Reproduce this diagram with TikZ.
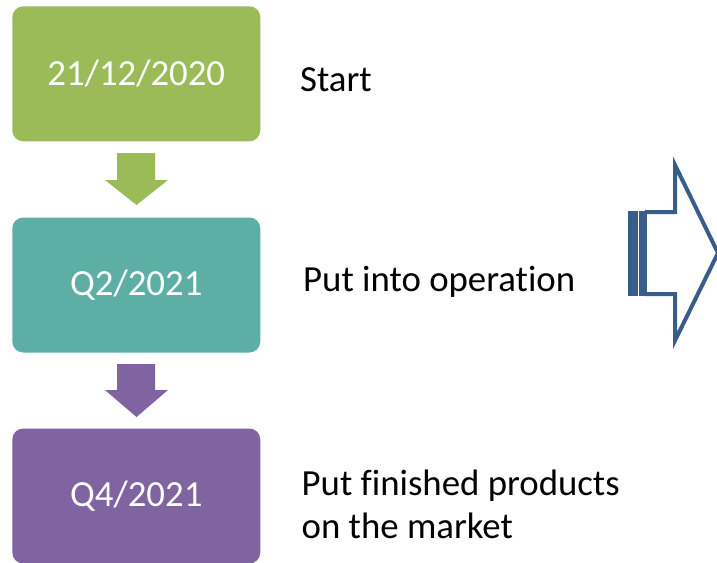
\documentclass[tikz,border=0pt]{standalone}
\usepackage{fontspec}
\setmainfont[Ligatures=NoCommon]{Carlito}
\definecolor{cgreen}{HTML}{9BBB59}
\definecolor{cteal}{HTML}{5DAFA6}
\definecolor{cpurple}{HTML}{8064A2}
\definecolor{cblue}{HTML}{385D8A}
\tikzset{
  datebox/.style={rounded corners=11pt, minimum width=248pt, minimum height=135pt, inner sep=0pt, text=white, font=\fontsize{36.8}{43}\selectfont},
  label/.style={anchor=base west, inner sep=0pt, font=\fontsize{36.8}{43}\selectfont},
}
\begin{document}
\begin{tikzpicture}[x=1pt,y=-1pt]
\useasboundingbox (0,0) rectangle (717,562);
\clip (0,0) rectangle (717,562);
\node[datebox, fill=cgreen] (b1) at (136.3,73.8) {21/12/2020};
\node[datebox, fill=cteal] (b2) at (136.3,285) {Q2/2021};
\node[datebox, fill=cpurple] (b3) at (136.3,496) {Q4/2021};
% down arrows
\fill[cgreen] (117,153) -- (155,153) -- (155,180) -- (168,180) -- (136.5,205) -- (105,180) -- (117,180) -- cycle;
\fill[cpurple] (117,364) -- (155,364) -- (155,390) -- (168,390) -- (136.5,417) -- (105,390) -- (117,390) -- cycle;
% labels
\node[label] (t1) at (300,91.7) {Start};
\node[label] (t2) at (303,291) {Put into operation};
\node[label] (t3a) at (301.5,495) {Put finished products};
\node[label] (t3b) at (301.5,538) {on the market};
% striped right arrow
\fill[cblue] (627.7,210.5) rectangle (638,295.5);
\fill[cblue] (639,210.5) rectangle (646.7,295.5);
\draw[cblue, line width=4pt, line join=miter] (645,212) -- (675,212) -- (675,165) -- (718,253) -- (675,340.5) -- (675,294) -- (645,294);
\end{tikzpicture}
\end{document}
